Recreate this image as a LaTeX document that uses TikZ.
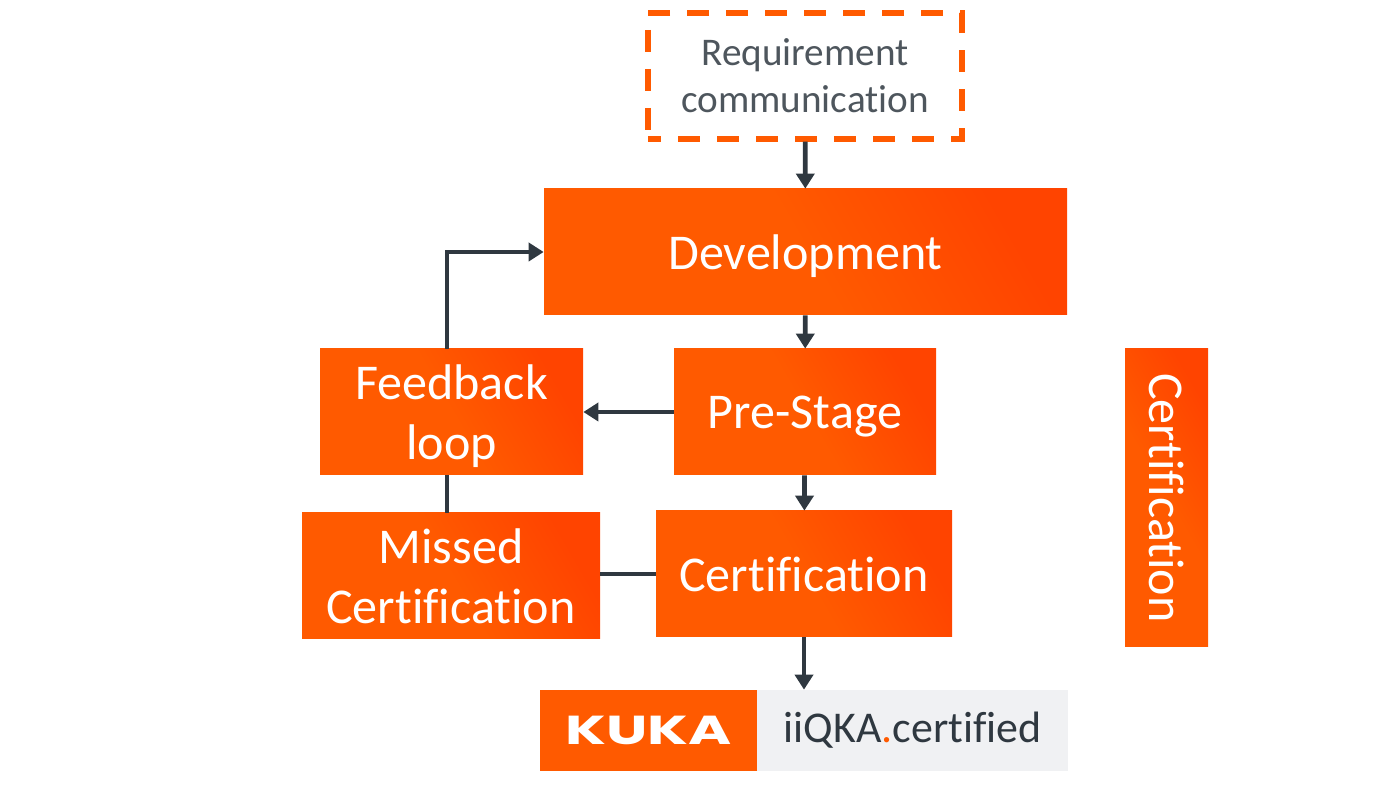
\documentclass[tikz,border=0pt]{standalone}
\usepackage{fontspec}
\setmainfont{Carlito}[Ligatures=NoCommon]
\newfontfamily\logofont{Poppins}
\usetikzlibrary{arrows.meta}
\definecolor{kukaorange}{RGB}{255,90,0}
\definecolor{kukadeep}{RGB}{255,68,0}
\definecolor{kukadark}{RGB}{47,56,64}
\definecolor{kukagrey}{RGB}{240,241,243}
\begin{document}
\begin{tikzpicture}

\tikzstyle{box} = [rectangle, inner sep=0pt, minimum height=2.52cm, text=white, align=center, text depth=0pt,
  left color=kukaorange, right color=kukadeep, middle color=kukaorange, shading angle=120,
  font=\fontsize{28.5}{34}\selectfont]
\tikzstyle{link} = [draw=kukadark, line width=2.7pt]
\tikzstyle{flow} = [link, -{Triangle[length=.3cm,width=.36cm]}]

\useasboundingbox (0,0) rectangle (28,15.8);

\node (r) [rectangle, draw=kukaorange, line width=3pt, dash pattern=on .44cm off .34cm, dash phase=.18cm,
  minimum width=6.28cm, minimum height=2.52cm, inner sep=0pt, align=center, text=kukadark!85,
  font=\fontsize{22.3}{26.6}\selectfont] at (16.1,14.28) {Requirement\\communication};

\node[box, minimum width=10.46cm] (d) at (16.11,10.76) {Development};
\node[box, minimum width=5.26cm] (f) at (9.03,7.56) {Feedback\\loop};
\node[box, minimum width=5.24cm] (p) at (16.1,7.56) {Pre-Stage};
\node[box, minimum width=5.96cm] (m) at (9.02,4.28) {Missed\\Certification};
\node[box, minimum width=5.92cm] (c) at (16.08,4.32) {Certification};
\node[box, minimum width=5.96cm, minimum height=1.66cm, rotate=-90] (s) at (23.33,5.84) {Certification};

\node (k) [rectangle, fill=kukaorange, inner sep=0pt, minimum width=4.34cm, minimum height=1.62cm,
  text=white, font=\logofont\bfseries\fontsize{23}{23}\selectfont] at (12.97,1.19) {\scalebox{1.45}[1]{KUKA}};
\node (q) [rectangle, fill=kukagrey, inner sep=0pt, minimum width=6.22cm, minimum height=1.62cm,
  text=kukadark, font=\fontsize{25}{25}\selectfont] at (18.25,1.19) {iiQKA{\color{kukaorange}.}certified};

\draw[flow] (r) -- (d);
\draw[flow] (d) -- (p);
\draw[flow] (p) -- (c);
\draw[flow] (p) -- (f);
\draw[flow] (c.south) -- (c.south |- q.north);

\draw[link] (c.west) -- (m.east |- c.west);
\draw[link] ([xshift=-.09cm]f.south) -- ([xshift=-.09cm]f.south |- m.north);
\draw[flow] ([xshift=-.09cm]f.north) |- (d.west);

\end{tikzpicture}
\end{document}
